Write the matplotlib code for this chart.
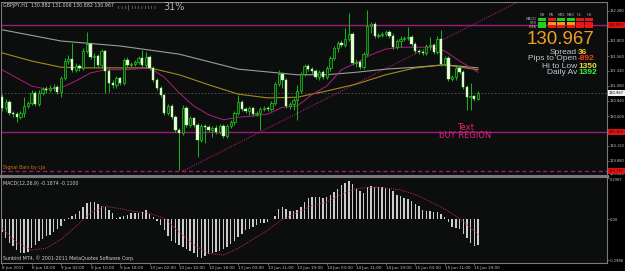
import numpy as np
import matplotlib.pyplot as plt
from matplotlib.patches import Rectangle
from matplotlib.transforms import blended_transform_factory

# GBPJPY H1 bars, 8 Jun 2011 10:00 -> 15 Jun 2011
opens = [130.90, 130.73, 130.82, 130.65, 130.63, 130.58, 130.65, 130.76, 130.81, 130.97,
         130.79, 130.97, 131.03, 131.02, 131.05, 131.06, 130.98, 131.21, 131.48, 131.51,
         131.34, 131.40, 131.37, 131.64, 131.75, 131.54, 131.56, 131.42, 131.64, 131.32,
         131.13, 131.10, 131.21, 131.13, 131.50, 131.42, 131.43, 131.46, 131.53, 131.42,
         131.54, 131.37, 131.18, 131.05, 130.94, 130.65, 130.76, 130.58, 130.38, 130.33,
         130.73, 130.46, 130.57, 130.46, 130.22, 130.44, 130.42, 130.38, 130.41, 130.34,
         130.44, 130.28, 130.44, 130.50, 130.65, 130.82, 130.71, 130.68, 130.73, 130.63,
         130.65, 130.71, 130.73, 130.71, 130.81, 131.11, 131.27, 131.18, 130.76, 130.79,
         130.86, 131.00, 131.27, 131.40, 131.35, 131.32, 131.22, 131.30, 131.22, 131.37,
         131.53, 131.69, 131.77, 131.74, 131.83, 131.91, 131.45, 131.46, 131.38, 131.59,
         132.04, 132.07, 131.88, 131.90, 131.91, 131.94, 131.88, 131.70, 131.80, 131.83,
         131.85, 131.86, 131.75, 131.64, 131.62, 131.61, 131.72, 131.74, 131.62, 131.83,
         131.43, 131.53, 131.19, 131.22, 131.37, 131.30, 131.06, 130.90, 130.92, 130.87]
closes = [130.73, 130.82, 130.65, 130.63, 130.58, 130.65, 130.76, 130.81, 130.97, 130.79,
          130.97, 131.03, 131.02, 131.05, 131.06, 130.98, 131.21, 131.48, 131.51, 131.34,
          131.40, 131.37, 131.64, 131.75, 131.54, 131.56, 131.42, 131.64, 131.32, 131.13,
          131.10, 131.21, 131.13, 131.50, 131.42, 131.43, 131.46, 131.53, 131.42, 131.54,
          131.37, 131.18, 131.05, 130.94, 130.65, 130.76, 130.58, 130.38, 130.33, 130.73,
          130.46, 130.57, 130.46, 130.22, 130.44, 130.42, 130.38, 130.41, 130.34, 130.44,
          130.28, 130.44, 130.50, 130.65, 130.82, 130.71, 130.68, 130.73, 130.63, 130.65,
          130.71, 130.73, 130.71, 130.81, 131.11, 131.27, 131.18, 130.76, 130.79, 130.86,
          131.00, 131.27, 131.40, 131.35, 131.32, 131.22, 131.30, 131.22, 131.37, 131.53,
          131.69, 131.77, 131.74, 131.83, 131.91, 131.45, 131.46, 131.38, 131.59, 132.04,
          132.07, 131.88, 131.90, 131.91, 131.94, 131.88, 131.70, 131.80, 131.83, 131.85,
          131.86, 131.75, 131.64, 131.62, 131.61, 131.72, 131.74, 131.62, 131.83, 131.43,
          131.53, 131.19, 131.22, 131.37, 131.30, 131.06, 130.90, 130.92, 130.87, 130.967]
highs = [130.95, 130.87, 130.86, 130.68, 130.66, 130.68, 130.90, 130.84, 131.02, 131.00,
         131.02, 131.06, 131.08, 131.10, 131.11, 131.10, 131.24, 131.53, 131.58, 131.77,
         131.45, 131.43, 131.69, 131.94, 131.78, 131.61, 131.59, 131.67, 131.66, 131.37,
         131.18, 131.24, 131.22, 131.53, 131.54, 131.46, 131.50, 131.56, 131.66, 131.62,
         131.58, 131.40, 131.21, 131.08, 130.95, 130.79, 130.79, 130.62, 130.41, 130.78,
         130.76, 130.60, 130.58, 130.49, 130.47, 130.47, 130.46, 130.44, 130.46, 130.47,
         130.47, 130.47, 130.54, 130.68, 130.94, 130.86, 130.74, 130.76, 130.74, 130.68,
         130.74, 130.76, 130.76, 130.84, 131.14, 131.34, 131.30, 131.21, 130.82, 130.89,
         131.10, 131.30, 131.43, 131.43, 131.38, 131.35, 131.34, 131.34, 131.40, 131.56,
         131.72, 131.80, 131.82, 132.01, 132.25, 131.94, 131.51, 131.50, 131.62, 132.30,
         132.10, 132.10, 131.93, 131.94, 131.98, 131.98, 131.93, 131.83, 131.88, 131.88,
         132.02, 131.90, 131.78, 131.67, 131.66, 131.75, 131.86, 131.77, 131.88, 131.98,
         131.56, 131.56, 131.26, 131.40, 131.42, 131.34, 131.10, 131.13, 130.94, 131.00]
lows = [130.68, 130.68, 130.62, 130.58, 130.50, 130.55, 130.58, 130.73, 130.78, 130.76,
        130.76, 130.94, 130.97, 130.98, 131.00, 130.95, 130.90, 131.18, 131.43, 131.30,
        131.30, 131.32, 131.34, 131.61, 131.51, 131.38, 131.38, 131.37, 130.97, 130.98,
        131.05, 131.05, 131.10, 131.10, 131.38, 131.38, 131.40, 131.43, 131.38, 131.37,
        131.34, 131.14, 131.02, 130.90, 130.62, 130.62, 130.55, 130.34, 129.74, 130.30,
        130.42, 130.42, 130.42, 129.94, 130.18, 130.17, 130.34, 130.26, 130.31, 130.31,
        130.25, 130.25, 130.41, 130.46, 130.62, 130.68, 130.65, 130.62, 130.60, 130.60,
        130.38, 130.68, 130.68, 130.68, 130.78, 131.08, 131.05, 130.73, 130.71, 130.70,
        130.54, 130.97, 131.24, 131.32, 131.27, 131.19, 131.18, 131.19, 131.19, 131.32,
        131.50, 131.62, 131.70, 131.70, 131.80, 131.42, 131.38, 131.35, 131.35, 131.56,
        131.93, 131.85, 131.85, 131.86, 131.88, 131.85, 131.67, 131.67, 131.70, 131.80,
        131.82, 131.72, 131.61, 131.59, 131.58, 131.58, 131.66, 131.59, 131.59, 131.40,
        131.40, 131.16, 131.16, 131.18, 131.27, 131.03, 130.70, 130.70, 130.84, 130.86]

# moving averages (bar index, price)
slow_idx = [0, 16, 32, 48, 64, 80, 88, 96, 104, 112, 120, 129]
slow_ma = [131.98, 131.80, 131.72, 131.59, 131.35, 131.26, 131.26, 131.30, 131.35, 131.38, 131.42, 131.37]
mid_idx = [0, 8, 16, 24, 32, 40, 48, 56, 64, 72, 80, 88, 96, 104, 112, 120, 129]
mid_ma = [131.61, 131.48, 131.38, 131.37, 131.37, 131.37, 131.26, 131.10, 130.95, 130.89,
          130.90, 131.00, 131.11, 131.26, 131.37, 131.42, 131.34]
fast_idx = [0, 4, 8, 12, 16, 20, 24, 28, 32, 36, 40, 44, 48, 52, 56, 60, 64, 68, 72, 76,
            80, 84, 88, 92, 96, 100, 104, 108, 112, 116, 120, 124, 129]
fast_ma = [131.34, 131.21, 131.08, 131.03, 131.05, 131.16, 131.29, 131.34, 131.34, 131.35,
           131.37, 131.22, 130.97, 130.76, 130.62, 130.54, 130.58, 130.60, 130.63, 130.74,
           130.76, 130.94, 131.08, 131.34, 131.45, 131.58, 131.67, 131.70, 131.70, 131.70,
           131.64, 131.48, 131.30]

hlines_solid = [132.05, 130.35]
hlines_dash = [129.72]
trend_x = [49, 141]
trend_y = [129.72, 132.46]
bid = 130.967

macd = [-0.092, -0.134, -0.170, -0.197, -0.224, -0.243, -0.245, -0.238, -0.211, -0.185,
        -0.160, -0.143, -0.124, -0.117, -0.090, -0.073, -0.046, -0.015, 0.012, 0.024,
        0.039, 0.063, 0.092, 0.119, 0.129, 0.129, 0.114, 0.097, 0.090, 0.070,
        0.044, 0.010, 0.015, 0.024, 0.032, 0.044, 0.049, 0.049, 0.056, 0.068,
        0.041, 0.019, -0.010, -0.041, -0.080, -0.122, -0.156, -0.175, -0.190, -0.202,
        -0.219, -0.228, -0.248, -0.272, -0.279, -0.267, -0.253, -0.248, -0.241, -0.228,
        -0.214, -0.204, -0.182, -0.156, -0.131, -0.109, -0.080, -0.068, -0.056, -0.041,
        -0.029, -0.024, -0.017, 0.004, 0.024, 0.073, 0.087, 0.073, 0.063, 0.058,
        0.068, 0.092, 0.126, 0.153, 0.165, 0.165, 0.165, 0.158, 0.165, 0.177,
        0.199, 0.224, 0.248, 0.262, 0.279, 0.255, 0.221, 0.204, 0.190, 0.236,
        0.243, 0.238, 0.233, 0.233, 0.226, 0.219, 0.204, 0.180, 0.170, 0.158,
        0.146, 0.131, 0.114, 0.095, 0.070, 0.061, 0.061, 0.051, 0.053, 0.036,
        0.015, -0.022, -0.058, -0.066, -0.073, -0.107, -0.134, -0.175, -0.194, -0.187]
sig_idx = list(range(0, 129, 4)) + [129]
signal = [-0.066, -0.168, -0.224, -0.211, -0.146, -0.053, 0.049, 0.095, 0.078, 0.056,
          0.044, 0.007, -0.090, -0.187, -0.248, -0.260, -0.211, -0.146, -0.078, 0.000,
          0.049, 0.100, 0.124, 0.182, 0.224, 0.233, 0.228, 0.214, 0.180, 0.129,
          0.075, 0.005, -0.085, -0.110]

date_idx = list(range(0, 129, 8))
date_lbl = ['8 Jun 2011', '8 Jun 18:00', '9 Jun 02:00', '9 Jun 10:00', '9 Jun 18:00',
            '10 Jun 02:00', '10 Jun 10:00', '10 Jun 18:00', '13 Jun 03:00', '13 Jun 11:00',
            '13 Jun 19:00', '14 Jun 03:00', '14 Jun 11:00', '14 Jun 19:00', '15 Jun 03:00',
            '15 Jun 11:00', '15 Jun 19:00']
price_ticks = [132.28, 131.80, 131.56, 131.32, 131.08, 130.84, 130.60, 130.12, 129.88, 129.64]
macd_ticks = [0.2987, 0.0, -0.2988]
macd_tlbl = ['0.2987', '0.00', '-0.2988']

tf_cols = ['M1', 'M5', 'M15', 'M30', 'H1', 'H4']
tf_rows = ['MACD', 'STR', 'EMA']
tf_state = [['g', 'r', 'g', 'g', 'r', 'r'],
            ['g', 'o', 'o', 'o', 'r', 'r'],
            ['g', 'r', 'r', 'r', 'r', 'r']]
info_lbl = ['Spread', 'Pips to Open', 'Hi to Low', 'Daily Av']
info_val = ['36', '-892', '1350', '1392']
info_col = ['#f0c828', '#ff3a18', '#f0d838', '#3cf03c']

W, H = 625, 271
fig = plt.figure(figsize=(W / 100, H / 100), dpi=100, facecolor='#000000')


def fx(px):
    return px / W


def fy(py):
    return 1 - py / H


bg = '#0b0e0d'
ax = fig.add_axes([fx(1), fy(176), 606 / W, 174 / H], facecolor=bg)
am = fig.add_axes([fx(1), fy(263), 606 / W, 86 / H], facecolor=bg)

o = np.array(opens)
c = np.array(closes)
hi = np.array(highs)
lo = np.array(lows)
x = np.arange(len(c))
up = c >= o
body = np.maximum(np.abs(c - o), 0.008)
bot = np.minimum(o, c)

# levels and trend line
for v in hlines_solid:
    ax.axhline(v, color='#9c1a7c', lw=1.0, zorder=1)
for v in hlines_dash:
    ax.axhline(v, color='#9c1a7c', lw=1.0, ls=(0, (3, 2)), zorder=1)
ax.axhline(bid, color='#555555', lw=0.6, ls=(0, (2, 2)), zorder=1)
ax.plot(trend_x, trend_y, color='#b01c7e', lw=0.8, ls=(0, (1, 1.2)), zorder=1)

# moving averages
ax.plot(slow_idx, slow_ma, color='#9c9c9c', lw=0.8, zorder=2)
ax.plot(mid_idx, mid_ma, color='#a48a1c', lw=0.8, zorder=2)
ax.plot(fast_idx, fast_ma, color='#b01c7e', lw=0.7, zorder=2)

# candles
ax.vlines(x, lo, hi, color='#18b018', lw=0.75, zorder=3)
ax.bar(x[up], body[up], bottom=bot[up], width=0.62, color='#0a300a',
       edgecolor='#22cc22', lw=0.5, zorder=4)
ax.bar(x[~up], body[~up], bottom=bot[~up], width=0.62, color='#eaffdc',
       edgecolor='#a8e890', lw=0.3, zorder=4)

ax.text(125.5, 130.415, 'Text', color='#e0207c', fontsize=6, ha='center', va='center', zorder=5)
ax.text(125.5, 130.29, 'bUY REGION', color='#e0207c', fontsize=6, ha='center', va='center', zorder=5)

# MACD panel
am.bar(x, macd, width=0.38, color='#cccccc', lw=0)
am.plot(sig_idx, signal, color='#c01c80', lw=0.7, ls=(0, (1, 1)))

for a in (ax, am):
    a.set_xlim(-0.27, 163.96)
    a.yaxis.tick_right()
    a.tick_params(axis='both', colors='#8a8a8a', labelcolor='#c8c8c8', labelsize=2.6,
                  length=1.5, width=0.5, pad=0.6)
    for s in a.spines.values():
        s.set_color('#7a7a7a')
        s.set_linewidth(0.8)
ax.spines['bottom'].set_linewidth(2.2)
ax.set_ylim(129.64, 132.424)
am.set_ylim(-0.318, 0.308)
ax.set_xticks([])
ax.set_yticks(price_ticks)
ax.set_yticklabels(['%.3f' % v for v in price_ticks])
ax.get_yticklabels()[-1].set_va('bottom')
am.set_yticks(macd_ticks)
am.set_yticklabels(macd_tlbl)
am.get_yticklabels()[0].set_va('top')
am.set_xticks(date_idx)
am.set_xticklabels(date_lbl, ha='left')
am.tick_params(axis='x', labelsize=3.0, pad=0.5)

# price boxes on the right scale
tr = blended_transform_factory(ax.transAxes, ax.transData)
for v in hlines_solid + hlines_dash:
    ax.text(1.003, v, '%.3f' % v, transform=tr, fontsize=2.6, color='#3a0000', va='center',
            ha='left', clip_on=False,
            bbox=dict(boxstyle='square,pad=0.3', fc='#e01414', ec='none'))
ax.text(1.003, bid, '%.3f' % bid, transform=tr, fontsize=2.6, color='#000000', va='center',
        ha='left', clip_on=False, bbox=dict(boxstyle='square,pad=0.3', fc='#f0f0f0', ec='none'))

# header texts
fig.text(fx(3), fy(5), 'GBPJPY,H1  130.882 131.006 130.882 130.967', fontsize=3.4,
         color='#d0d0d0', va='center')
fig.text(fx(118), fy(7.5), 'ı ı ı | ı ı ı ı ı ı ı ı', fontsize=4, color='#9a9a9a', va='center')
fig.text(fx(163), fy(7), '31%', fontsize=7, color='#b4b4b4', va='center')
fig.text(fx(3), fy(167), 'Signal Bars by cja', fontsize=3.4, color='#d07a12', va='center')
fig.text(fx(3), fy(183), 'MACD(12,26,9) -0.1874 -0.1100', fontsize=3.4, color='#d0d0d0', va='center')
fig.text(fx(3), fy(258), 'Sunbird MT4, \u00a9 2001-2011 MetaQuotes Software Corp.', fontsize=3.4,
         color='#d0d0d0', va='center')

# timeframe grid
state_col = {'g': '#22d022', 'r': '#e81818', 'o': '#f0a018'}
col_x = [538, 547.5, 557, 566.5, 575.5, 585]
row_y = [18, 21.7, 25.4]
for j, name in enumerate(tf_cols):
    fig.text(fx(col_x[j] + 4), fy(15), name, fontsize=2.6, color='#b0b0b0', ha='center', va='center')
for r, name in enumerate(tf_rows):
    fig.text(fx(536.5), fy(row_y[r] + 1.5), name, fontsize=2.6, color='#b0b0b0', ha='right', va='center')
    for j in range(len(tf_cols)):
        fig.add_artist(Rectangle((fx(col_x[j]), fy(row_y[r] + 3)), 8 / W, 3 / H,
                                 transform=fig.transFigure, fc=state_col[tf_state[r][j]], ec='none'))

fig.text(fx(594), fy(39), '130.967', fontsize=13.5, color='#f0a024', ha='right', va='center',
         family='Liberation Sans')
for k, (lb, vl, cl) in enumerate(zip(info_lbl, info_val, info_col)):
    yy = fy(52 + 7 * k)
    fig.text(fx(577), yy, lb, fontsize=6, color='#c0c8d0', ha='right', va='center', family='Liberation Sans')
    fig.text(fx(578), yy, vl, fontsize=6, color=cl, ha='left', va='center', family='Liberation Sans',
             weight='bold')

fig.savefig('out.png', dpi=100, facecolor=fig.get_facecolor())
